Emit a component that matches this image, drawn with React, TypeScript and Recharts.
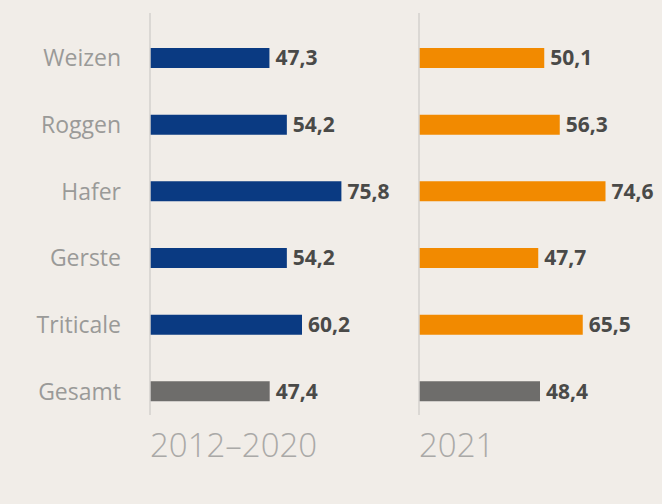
import { BarChart, Bar, XAxis, YAxis, Cell, LabelList } from 'recharts';

const categories = ['Weizen', 'Roggen', 'Hafer', 'Gerste', 'Triticale', 'Gesamt'];
const values20122020 = [47.3, 54.2, 75.8, 54.2, 60.2, 47.4];
const values2021 = [50.1, 56.3, 74.6, 47.7, 65.5, 48.4];
const periodLabels = ['2012–2020', '2021'];

const BG = '#f1ede8';
const BLUE = '#0a3a82';
const ORANGE = '#f28a00';
const GREY = '#6e6d6b';
const FONT = '"Open Sans", sans-serif';

const dataLeft = categories.map((name, i) => ({ name, value: values20122020[i] }));
const dataRight = categories.map((name, i) => ({ name, value: values2021[i] }));

const fmt = (v: any) => String(v).replace('.', ',');

function PeriodLabel(text: string) {
  return (props: any) => {
    const vb = props.viewBox || {};
    return (
      <text x={vb.x} y={vb.y + 42} fill="#aaa9a7" fontSize={33} fontWeight={300} fontFamily={FONT}>
        {text}
      </text>
    );
  };
}

function Panel({
  data,
  color,
  label,
  showNames,
}: {
  data: { name: string; value: number }[];
  color: string;
  label: string;
  showNames: boolean;
}) {
  const axisW = showNames ? 150 : 1;
  return (
    <BarChart
      width={showNames ? 410 : 262}
      height={504}
      data={data}
      layout="vertical"
      margin={{ top: 13, right: showNames ? 58 : 43, bottom: 29, left: showNames ? 0 : 18 }}
    >
      <XAxis
        type="number"
        domain={[0, 80]}
        axisLine={false}
        tickLine={false}
        tick={false}
        height={60}
        label={{ content: PeriodLabel(label) } as any}
      />
      <YAxis
        type="category"
        dataKey="name"
        width={axisW}
        padding={{ top: 12, bottom: -10 }}
        axisLine={{ stroke: '#d3d1ce', strokeWidth: 1.5 }}
        tickLine={false}
        tickSize={0}
        tickMargin={29}
        tick={showNames ? { fill: '#9a9a98', fontSize: 23, fontFamily: FONT } : false}
      />
      <Bar dataKey="value" isAnimationActive={false} barSize={20}>
        {data.map((d, i) => (
          <Cell key={d.name} fill={i === data.length - 1 ? GREY : color} />
        ))}
        <LabelList
          dataKey="value"
          position="right"
          offset={6}
          formatter={fmt}
          fill="#4a4a48"
          fontSize={21}
          fontWeight={700}
          fontFamily={FONT}
        />
      </Bar>
    </BarChart>
  );
}

export default function App() {
  return (
    <div style={{ position: 'absolute', left: 0, top: 0, width: 662, height: 504, background: BG, overflow: 'hidden' }}>
      <div style={{ position: 'absolute', left: 0, top: 0 }}>
        <Panel data={dataLeft} color={BLUE} label={periodLabels[0]} showNames />
      </div>
      <div style={{ position: 'absolute', left: 400, top: 0 }}>
        <Panel data={dataRight} color={ORANGE} label={periodLabels[1]} showNames={false} />
      </div>
    </div>
  );
}
